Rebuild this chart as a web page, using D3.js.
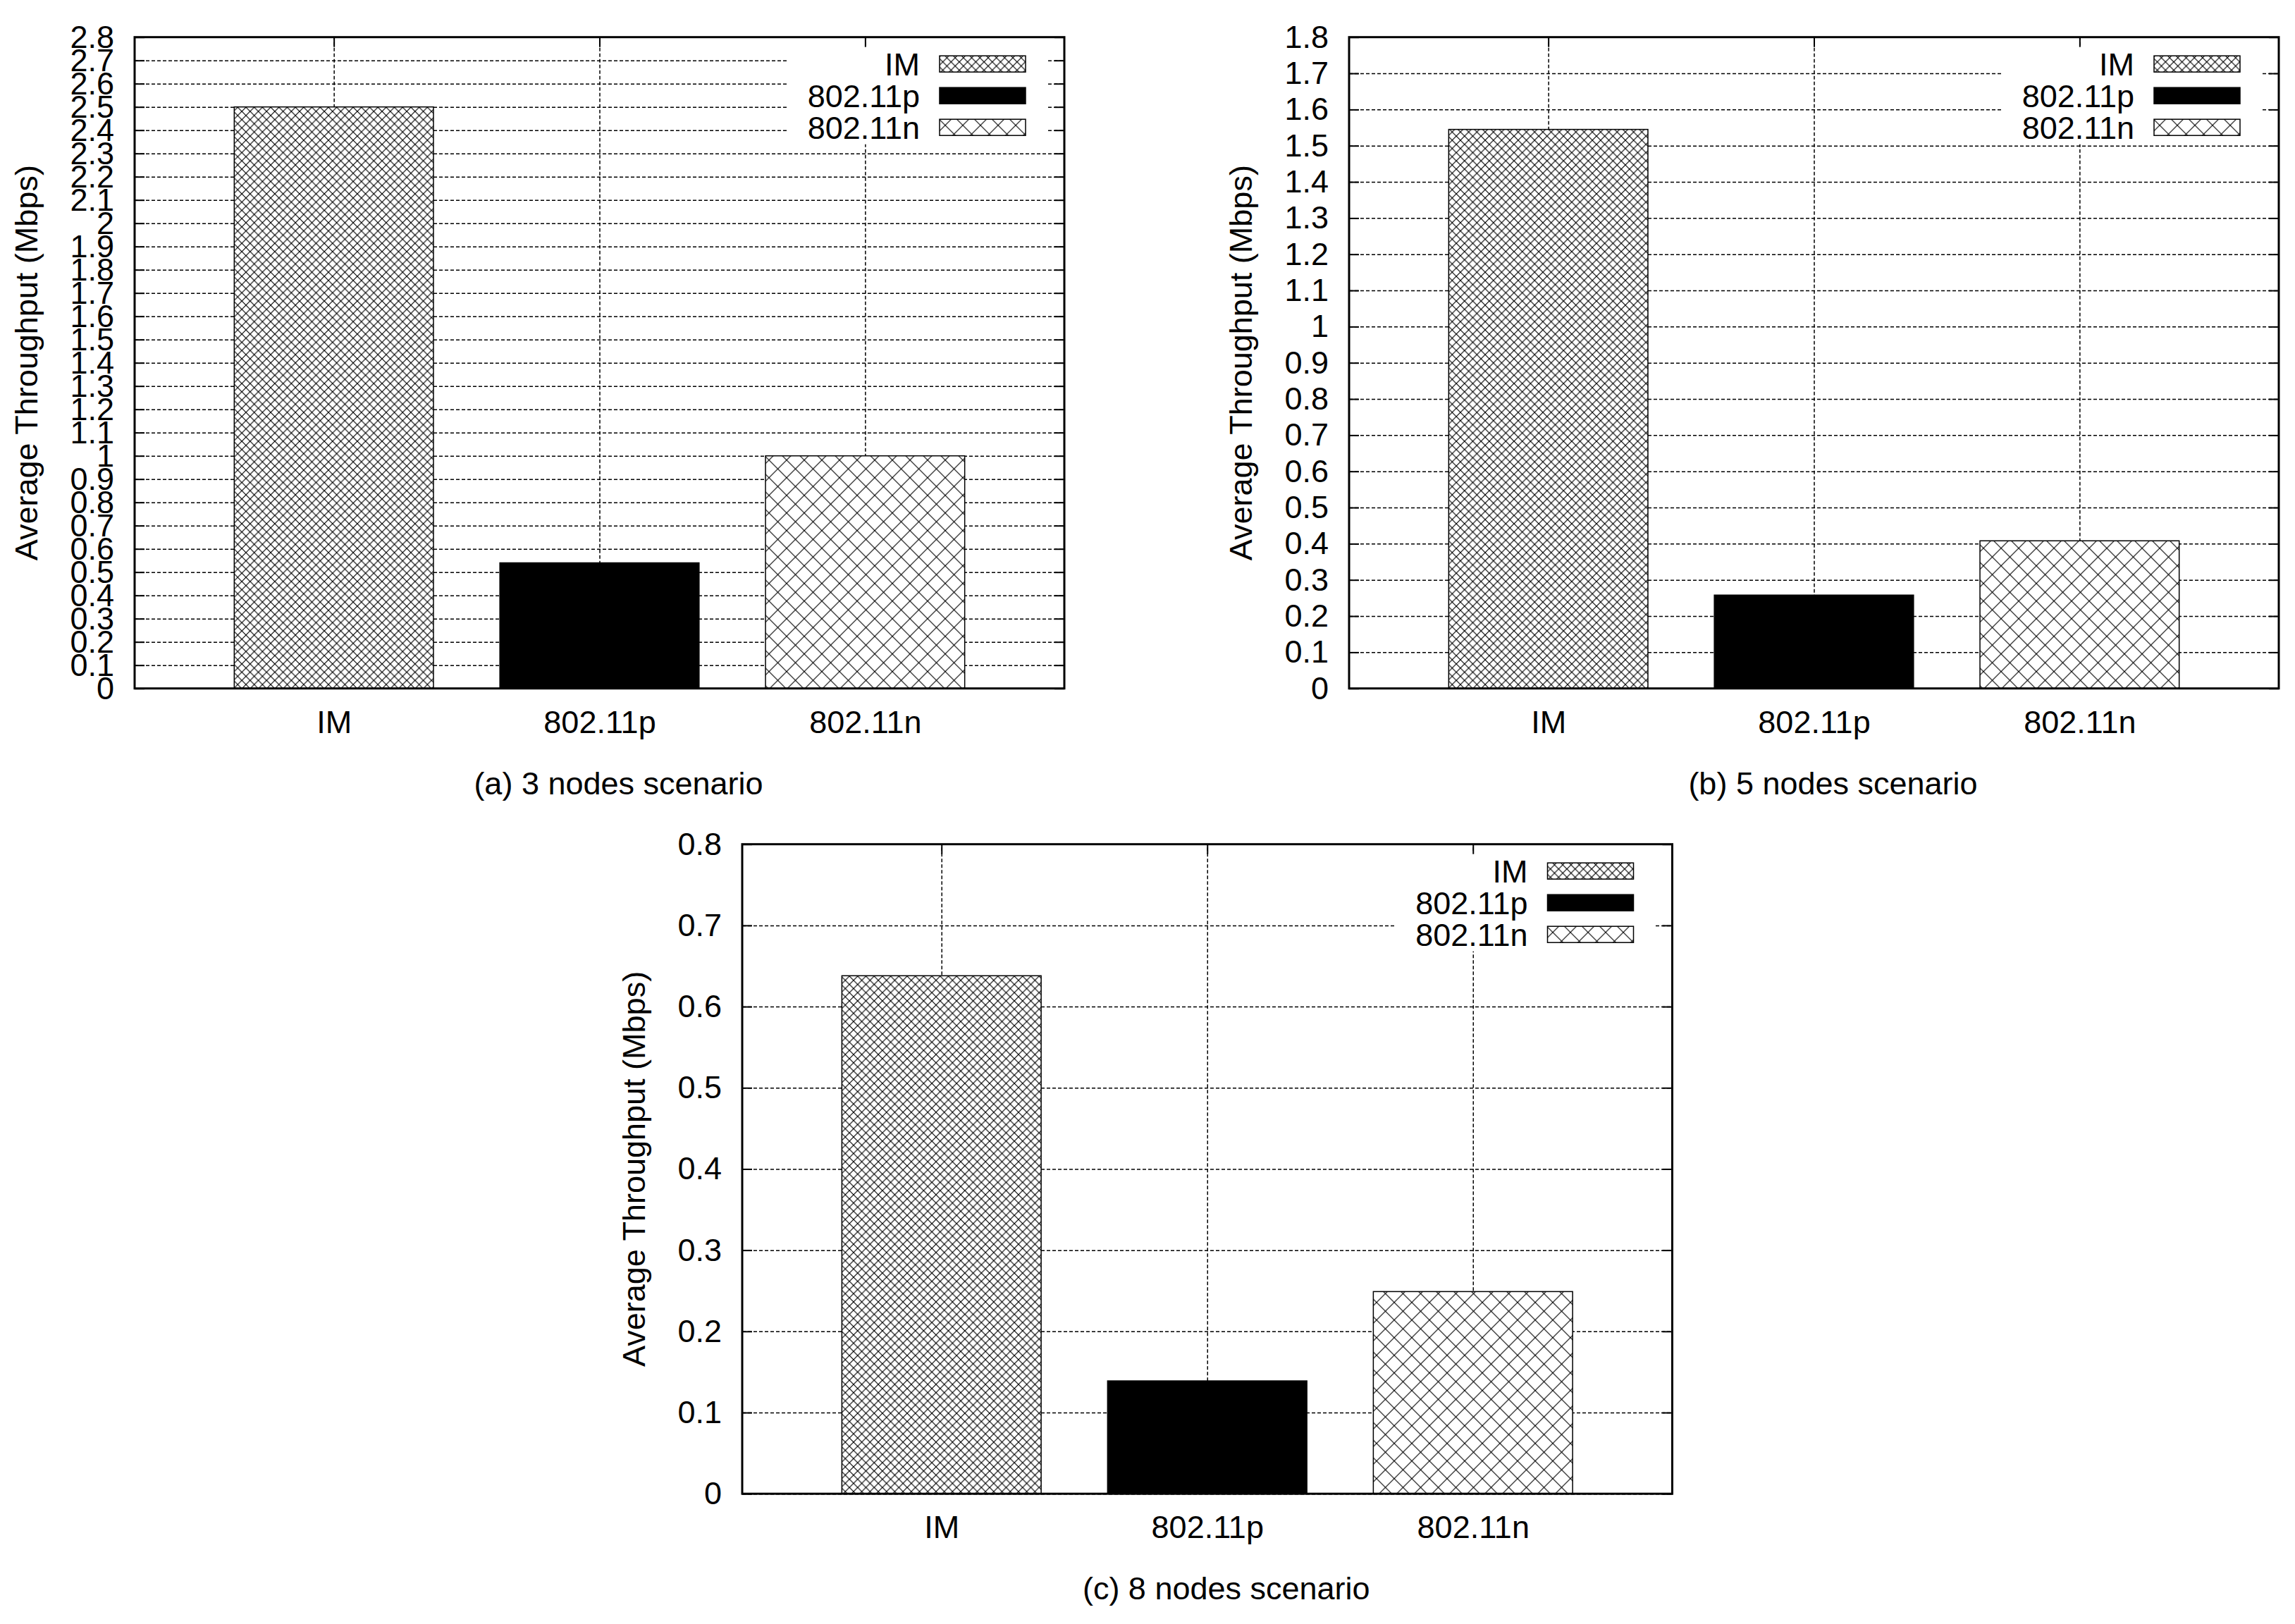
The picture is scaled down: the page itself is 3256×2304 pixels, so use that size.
<!DOCTYPE html>
<html>
<head>
<meta charset="utf-8">
<script src="https://cdn.jsdelivr.net/npm/d3@7"></script>
<style>
  body { margin: 0; background: #fff; }
  svg { display: block; }
</style>
</head>
<body>
<script>
// values
const categories = ["IM", "802.11p", "802.11n"];
const nodes3 = [2.50, 0.54, 1.00];
const nodes5 = [1.545, 0.258, 0.408];
const nodes8 = [0.638, 0.139, 0.249];
const yMaxes = [2.8, 1.8, 0.8];
const captions = ["(a) 3 nodes scenario", "(b) 5 nodes scenario", "(c) 8 nodes scenario"];
const yTitle = "Average Throughput (Mbps)";

const W = 3256, H = 2304, FS = 45;
const FONT = "'Liberation Sans', Arial, Helvetica, sans-serif";

const svg = d3.select("body").append("svg")
    .attr("width", W)
    .attr("height", H)
    .style("font-family", FONT);

svg.append("rect").attr("width", W).attr("height", H).attr("fill", "#fff");

// hatch patterns for the bars
const defs = svg.append("defs");
function hatch(id, d, sw) {
  const p = defs.append("pattern")
      .attr("id", id)
      .attr("patternUnits", "userSpaceOnUse")
      .attr("width", d)
      .attr("height", d);
  p.append("rect").attr("width", d).attr("height", d).attr("fill", "#fff");
  p.append("path")
      .attr("d", `M-1,-1L${d + 1},${d + 1}M${d + 1},-1L-1,${d + 1}`)
      .attr("stroke", "#000")
      .attr("stroke-width", sw)
      .attr("fill", "none");
}
hatch("hatchIM", 11.7, 1.2);
hatch("hatchN", 25, 1.1);
const fills = ["url(#hatchIM)", "#000", "url(#hatchN)"];

const panels = [
  { left: 191, top: 52.7, w: 1319, h: 924, values: nodes3 },
  { left: 1914, top: 52.7, w: 1319, h: 924, values: nodes5 },
  { left: 1053, top: 1197.7, w: 1319.5, h: 921.5, values: nodes8 }
];

const fmt = d => String(+d.toFixed(1));

panels.forEach((p, i) => {
  const g = svg.append("g").attr("transform", `translate(${p.left},${p.top})`);
  const x = d3.scaleLinear().domain([-0.75, 2.75]).range([0, p.w]);
  const y = d3.scaleLinear().domain([0, yMaxes[i]]).range([p.h, 0]);
  const ticks = d3.range(0, Math.round(yMaxes[i] * 10) + 1).map(k => k / 10);

  // dashed grid
  g.append("g")
      .call(d3.axisLeft(y).tickValues(ticks).tickSize(-p.w).tickFormat(""))
      .call(a => a.select(".domain").remove())
      .selectAll("line")
      .attr("stroke", "#000")
      .attr("stroke-width", 1.5)
      .attr("stroke-dasharray", "5,3");

  g.append("g")
      .attr("transform", `translate(0,${p.h})`)
      .call(d3.axisBottom(x).tickValues([0, 1, 2]).tickSize(-p.h).tickFormat(""))
      .call(a => a.select(".domain").remove())
      .selectAll("line")
      .attr("stroke", "#000")
      .attr("stroke-width", 1.5)
      .attr("stroke-dasharray", "5,3");

  // key background hides the grid
  g.append("rect")
      .attr("x", p.w - 393)
      .attr("y", 12)
      .attr("width", 367)
      .attr("height", 140)
      .attr("fill", "#fff");

  // x axis labels and inner ticks (under the bars)
  g.append("g")
      .attr("transform", `translate(0,${p.h})`)
      .call(d3.axisBottom(x).tickValues([0, 1, 2]).tickSize(-14).tickPadding(31)
        .tickFormat(j => categories[j]))
      .call(a => a.select(".domain").remove())
      .call(a => a.selectAll("line").attr("stroke-width", 2))
      .call(a => a.selectAll("text").attr("font-size", FS).attr("font-family", FONT));

  // bars
  g.selectAll("rect.bar")
      .data(p.values)
      .join("rect")
      .attr("class", "bar")
      .attr("x", (d, j) => x(j - 0.375))
      .attr("width", x(0.75) - x(0))
      .attr("y", d => y(d))
      .attr("height", d => p.h - y(d))
      .attr("fill", (d, j) => fills[j])
      .attr("stroke", "#000")
      .attr("stroke-width", 1.5);

  // y axis with inward ticks
  g.append("g")
      .call(d3.axisLeft(y).tickValues(ticks).tickSize(-14).tickPadding(29).tickFormat(fmt))
      .call(a => a.select(".domain").remove())
      .call(a => a.selectAll("line").attr("stroke-width", 2))
      .call(a => a.selectAll("text").attr("font-size", FS).attr("font-family", FONT));

  // mirror ticks
  g.append("g")
      .attr("transform", `translate(${p.w},0)`)
      .call(d3.axisRight(y).tickValues(ticks).tickSize(-14).tickFormat(""))
      .call(a => a.select(".domain").remove())
      .selectAll("line").attr("stroke-width", 2);

  g.append("g")
      .call(d3.axisTop(x).tickValues([0, 1, 2]).tickSize(-14).tickFormat(""))
      .call(a => a.select(".domain").remove())
      .selectAll("line").attr("stroke-width", 2);

  // frame
  g.append("rect")
      .attr("width", p.w)
      .attr("height", p.h)
      .attr("fill", "none")
      .attr("stroke", "#000")
      .attr("stroke-width", 3);

  // axis title
  g.append("text")
      .attr("transform", `translate(-138,${p.h / 2}) rotate(-90)`)
      .attr("text-anchor", "middle")
      .attr("font-size", FS)
      .text(yTitle);

  // caption
  g.append("text")
      .attr("x", p.w / 2 + 27)
      .attr("y", p.h + 150)
      .attr("text-anchor", "middle")
      .attr("font-size", FS)
      .text(captions[i]);

  // key
  const key = g.append("g");
  categories.forEach((c, j) => {
    const cy = 38 + j * 45;
    key.append("text")
        .attr("x", p.w - 205)
        .attr("y", cy + 16)
        .attr("text-anchor", "end")
        .attr("font-size", FS)
        .text(c);
    key.append("rect")
        .attr("x", p.w - 177)
        .attr("y", cy - 11.5)
        .attr("width", 122)
        .attr("height", 23)
        .attr("fill", fills[j])
        .attr("stroke", "#000")
        .attr("stroke-width", 1.5);
  });
});
</script>
</body>
</html>
